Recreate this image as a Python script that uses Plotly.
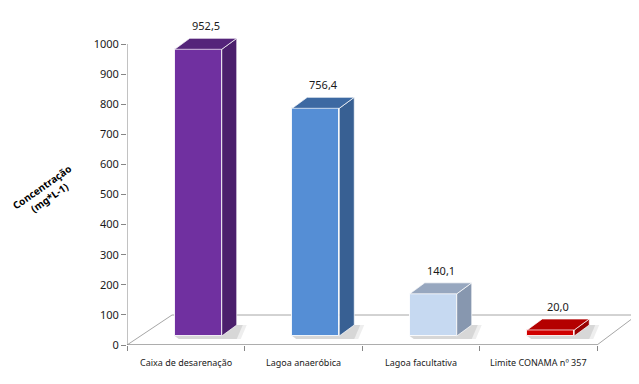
import plotly.graph_objects as go

categories = ["Caixa de desarenação", "Lagoa anaeróbica", "Lagoa facultativa", "Limite CONAMA nº 357"]
values = [952.5, 756.4, 140.1, 20.0]
value_labels = ["952,5", "756,4", "140,1", "20,0"]
y_ticks = list(range(0, 1001, 100))

front_colors = ["#7030A0", "#558ED5", "#C6D9F1", "#D00000"]
side_colors = ["#4B1F6C", "#386093", "#8797AF", "#980000"]
top_colors = ["#54247A", "#3D69A2", "#97A7BF", "#B40000"]

# page body has an 8px margin; figure coordinates = screen - 8
OFF = 8
W, H = 639 - OFF, 384 - OFF
ML, MR, MT = 127 - OFF, 0, 10 - OFF
px_per_cat = 117.5
px_per_val = 0.301
plot_w = W - ML - MR
plot_h = 335
MB = H - MT - plot_h
x_rng = [-0.5, -0.5 + plot_w / px_per_cat]
y_rng = [0, plot_h / px_per_val]

cx = lambda p: p / px_per_cat
cy = lambda p: p / px_per_val

bar_w = cx(47)
bar_dx = cx(12.5)          # front face shift (floor depth)
base = cy(9)
ddx, ddy = cx(15), cy(11)  # bar depth

fig = go.Figure()

n = len(categories)
fl_l, fl_r, fl_up = cx(45), cx(40), cy(30)
floor_path = (f"M {-0.5} 0 L {n-0.5} 0 L {n-0.5+fl_r} {fl_up} "
              f"L {-0.5+fl_l} {fl_up} Z")
shapes = [dict(type="path", path=floor_path, xref="x", yref="y", layer="below",
               line=dict(color="#A6A6A6", width=1), fillcolor="white")]

# soft shadows
for i, v in enumerate(values):
    xl = i + bar_dx - bar_w / 2
    xr = xl + bar_w
    for k, a in [(10, 0.10), (6, 0.15)]:
        sh = (f"M {xr} {base+ddy} L {xr+ddx+cx(k)} {base+ddy} L {xr+ddx+cx(k)-cx(6)} {base-cy(3)} "
              f"L {xl+cx(4)} {base-cy(3)} L {xl} {base} Z")
        shapes.append(dict(type="path", path=sh, xref="x", yref="y", layer="below",
                           line=dict(width=0), fillcolor=f"rgba(90,90,90,{a})"))

# axis lines
shapes.append(dict(type="line", xref="x", yref="y", x0=-0.5, x1=-0.5, y0=0, y1=1000,
                   line=dict(color="#868686", width=1)))
shapes.append(dict(type="line", xref="x", yref="y", x0=-0.5, x1=n - 0.5, y0=0, y1=0,
                   line=dict(color="#868686", width=1)))

# front faces
fig.add_trace(go.Bar(
    x=[i + bar_dx for i in range(n)], y=values, base=base, width=bar_w,
    marker=dict(color=front_colors, line=dict(color="rgba(255,255,255,0.85)", width=1)),
    hoverinfo="skip", showlegend=False))

for i, v in enumerate(values):
    xl = i + bar_dx - bar_w / 2
    xr = xl + bar_w
    top = base + v
    fig.add_trace(go.Scatter(
        x=[xr, xr + ddx, xr + ddx, xr, xr], y=[base, base + ddy, top + ddy, top, base],
        fill="toself", fillcolor=side_colors[i], mode="lines",
        line=dict(color="rgba(255,255,255,0.7)", width=1), hoverinfo="skip", showlegend=False))
    fig.add_trace(go.Scatter(
        x=[xl, xl + ddx, xr + ddx, xr, xl], y=[top, top + ddy, top + ddy, top, top],
        fill="toself", fillcolor=top_colors[i], mode="lines",
        line=dict(color="rgba(255,255,255,0.7)", width=1), hoverinfo="skip", showlegend=False))

annotations = []
for i, v in enumerate(values):
    annotations.append(dict(x=i + bar_dx + ddx / 2, y=base + v + ddy, xref="x", yref="y",
                            text=value_labels[i], showarrow=False, yanchor="bottom", yshift=3,
                            font=dict(family="Noto Sans", size=11, color="#1a1a1a")))
    annotations.append(dict(x=i, y=-17 / plot_h, xref="x", yref="paper",
                            text=categories[i], showarrow=False, yanchor="middle",
                            font=dict(family="Noto Sans", size=9, color="#1a1a1a")))

title_sx, title_sy = 45, 192  # screen position of title centre
annotations.append(dict(x=(title_sx - OFF - ML) / plot_w, y=(MT + plot_h - (title_sy - OFF)) / plot_h,
                        xref="paper", yref="paper", xanchor="center", yanchor="middle",
                        text="<b>Concentração<br>(mg*L-1)</b>", showarrow=False, textangle=-35,
                        font=dict(family="Noto Sans", size=10, color="#000")))

fig.update_layout(
    width=W, height=H, margin=dict(l=ML, r=MR, t=MT, b=MB),
    paper_bgcolor="white", plot_bgcolor="white",
    shapes=shapes, annotations=annotations, bargap=0,
    xaxis=dict(range=x_rng, tickvals=[i - 0.5 for i in range(n + 1)],
               ticktext=[""] * (n + 1), ticks="outside", ticklen=5, tickcolor="#868686",
               showgrid=False, zeroline=False, showline=False, fixedrange=True),
    yaxis=dict(range=y_rng, tickvals=y_ticks, ticks="outside", ticklen=5, tickcolor="#868686",
               showgrid=False, zeroline=False, showline=False,
               tickfont=dict(family="Noto Sans", size=11, color="#1a1a1a")),
)

fig.write_html("out.html")
